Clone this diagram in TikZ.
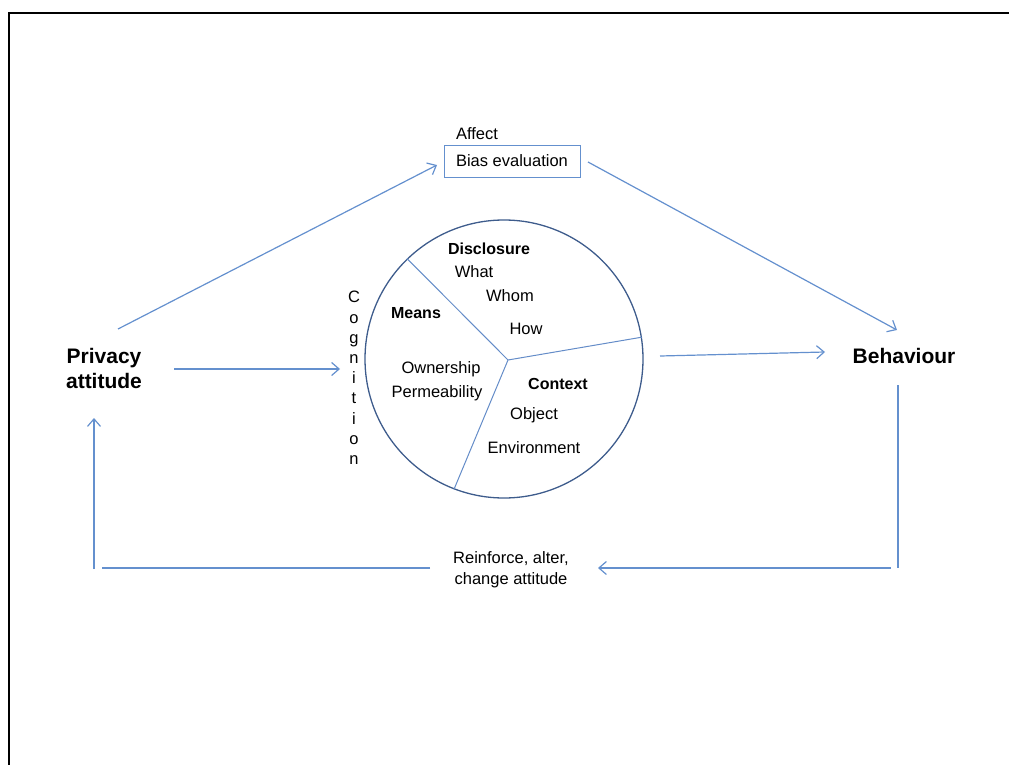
\documentclass[tikz,border=0pt]{standalone}
\usepackage{fontspec}
\setmainfont{Liberation Sans}
\usetikzlibrary{arrows.meta}
\definecolor{flow}{RGB}{100,144,206}
\definecolor{ring}{RGB}{62,92,140}
\definecolor{spoke}{RGB}{100,140,200}
\tikzset{
  txt/.style={inner sep=0pt, font=\fontsize{16.5}{19}\selectfont},
  head/.style={inner sep=0pt, font=\fontsize{16}{19}\selectfont\bfseries},
  big/.style={inner sep=0pt, align=center, font=\fontsize{21}{25}\selectfont\bfseries},
  flowline/.style={draw=flow, line width=1.2pt},
  flowarrow/.style={flowline, -{Straight Barb[length=7.5pt,width=13pt,line width=1.2pt]}},
}
\begin{document}
\begin{tikzpicture}[x=1pt,y=-1pt]
  \useasboundingbox (0,0) rectangle (1009,765);
  % page frame
  \draw[line width=2.6pt] (9,765) -- (9,13) -- (1009,13);

  % main concepts
  \node[big] (pa) at (104,368.5) {Privacy\\attitude};
  \node[big] (beh) at (904,356) {Behaviour};

  % affect branch
  \node[txt] (affect) at (477,134) {Affect};
  \node[draw=flow, line width=0.9pt, minimum width=136pt, minimum height=32pt,
        inner sep=0pt, font=\fontsize{16.5}{19}\selectfont] (bias) at (512,161) {Bias evaluation};

  % cognition circle split in three sectors
  \node[draw=ring, line width=1.3pt, circle, minimum size=278pt, inner sep=0pt] (cog) at (504,359) {};
  \coordinate (hub) at (508,360);
  \draw[spoke, line width=1pt] (hub) -- (cog.134);
  \draw[spoke, line width=1pt] (hub) -- (cog.9);
  \draw[spoke, line width=1pt] (hub) -- (cog.249);

  \node[txt, align=center, font=\fontsize{16.5}{20.2}\selectfont] (cogname) at (354,378)
    {C\\o\\g\\n\\i\\t\\i\\o\\n};

  \node[head] (disc) at (489,249) {Disclosure};
  \node[txt] (what) at (474,272) {What};
  \node[txt] (whom) at (510,296) {Whom};
  \node[txt] (how) at (526,329) {How};

  \node[head] (means) at (416,313) {Means};
  \node[txt] (own) at (441,369) {Ownership};
  \node[txt] (perm) at (437,393) {Permeability};

  \node[head] (ctx) at (558,384) {Context};
  \node[txt] (obj) at (534,415) {Object};
  \node[txt] (env) at (534,448) {Environment};

  % feedback label
  \node[txt, align=center, font=\fontsize{16.5}{21}\selectfont] (fb) at (511,569.5)
    {Reinforce, alter,\\change attitude};

  % connector end points
  \coordinate (pa-up) at (118,329);
  \coordinate (bias-in) at (437,165);
  \coordinate (bias-out) at (588,162);
  \coordinate (beh-in) at (897,330);
  \coordinate (pa-out) at (174,369);
  \coordinate (cog-in) at (340,369);
  \coordinate (cog-out) at (660,356);
  \coordinate (beh-left) at (825,352);
  \coordinate (beh-down) at (898,385);
  \coordinate (rc) at (898,568);
  \coordinate (rh) at (891,568);
  \coordinate (fb-right) at (598,568);
  \coordinate (fb-left) at (430,568);
  \coordinate (lh) at (102,568);
  \coordinate (lc) at (94,569);
  \coordinate (pa-in) at (94,418);

  \draw[flowarrow] (pa-up) -- (bias-in);
  \draw[flowarrow] (bias-out) -- (beh-in);
  \draw[flowarrow] (pa-out) -- (cog-in);
  \draw[flowarrow] (cog-out) -- (beh-left);
  \draw[flowline] (beh-down) -- (rc);
  \draw[flowarrow] (rh) -- (fb-right);
  \draw[flowline] (fb-left) -- (lh);
  \draw[flowarrow] (lc) -- (pa-in);
\end{tikzpicture}
\end{document}
